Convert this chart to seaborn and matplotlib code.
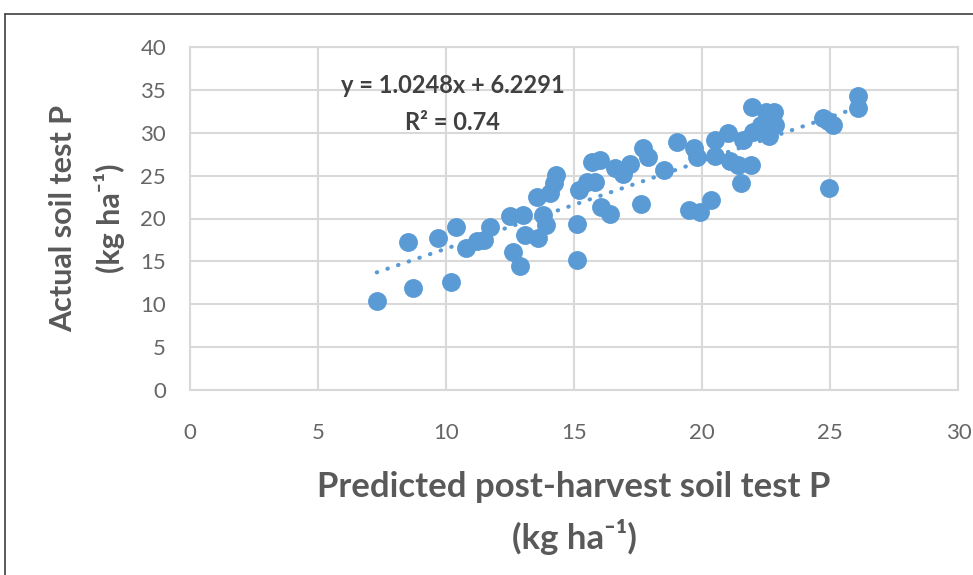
import numpy as np
import pandas as pd
import seaborn as sns
import matplotlib.pyplot as plt
from matplotlib.lines import Line2D

# valores
predicted = [7.3, 8.5, 8.7, 9.7, 10.2, 10.4, 10.8, 11.2, 11.5, 11.7,
             12.5, 12.6, 12.9, 13.0, 13.1, 13.55, 13.6, 13.8, 13.9, 14.05,
             14.2, 14.3, 15.1, 15.1, 15.2, 15.5, 15.7, 15.8, 16.0, 16.05,
             16.4, 16.6, 16.9, 17.2, 17.6, 17.7, 17.9, 18.5, 19.0, 19.5,
             19.7, 19.8, 19.9, 20.35, 20.5, 20.5, 21.0, 21.1, 21.4, 21.5,
             21.6, 21.9, 21.95, 22.0, 22.3, 22.5, 22.6, 22.8, 22.85, 24.7,
             24.9, 25.1, 24.95, 26.1, 26.1]
actual = [10.4, 17.3, 11.9, 17.7, 12.6, 19.0, 16.6, 17.4, 17.5, 19.0,
          20.3, 16.1, 14.5, 20.4, 18.1, 22.5, 17.7, 20.4, 19.2, 23.0,
          24.1, 25.1, 19.4, 15.2, 23.3, 24.3, 26.6, 24.3, 26.8, 21.3,
          20.5, 25.9, 25.2, 26.4, 21.7, 28.2, 27.2, 25.7, 28.9, 21.0,
          28.2, 27.2, 20.8, 22.2, 29.2, 27.3, 30.0, 26.7, 26.2, 24.1,
          29.2, 26.2, 33.0, 30.1, 30.9, 32.4, 29.6, 32.4, 30.9, 31.7,
          31.4, 30.9, 23.6, 34.3, 32.9]
slope, intercept = 1.0248, 6.2291
r2 = 0.74
x_ticks = [0, 5, 10, 15, 20, 25, 30]
y_ticks = [0, 5, 10, 15, 20, 25, 30, 35, 40]

df = pd.DataFrame({"pred": predicted, "actual": actual})

sns.set_style("white")
plt.rcParams["font.family"] = ["Lato", "DejaVu Sans"]

blue = "#5B9BD5"
gray = "#595959"

fig = plt.figure(figsize=(9.73, 5.75), dpi=100)
ax = fig.add_axes([0.195, 0.322, 0.79, 0.596])

sns.scatterplot(data=df, x="pred", y="actual", s=185, color=blue,
                edgecolor=blue, linewidth=0, alpha=1, ax=ax, zorder=3)

# línea de tendencia
xx = np.array([df["pred"].min(), df["pred"].max()])
ax.plot(xx, slope * xx + intercept, color=blue, linestyle=(0, (0.1, 2.6)),
        linewidth=3, dash_capstyle="round", zorder=2)

ax.set_xlim(0, 30)
ax.set_ylim(0, 40)
ax.set_xticks(x_ticks)
ax.set_yticks(y_ticks)
ax.grid(True, color="#D9D9D9", linewidth=1.5)
ax.set_axisbelow(True)
for sp in ax.spines.values():
    sp.set_color("#D9D9D9")
    sp.set_linewidth(1.5)
ax.tick_params(length=0, labelsize=16, colors="#666666", pad=17)
ax.tick_params(axis="x", pad=24)

ax.set_xlabel("Predicted post-harvest soil test P\n(kg ha⁻¹)",
              fontsize=25, fontweight="bold", color=gray, labelpad=20,
              linespacing=1.55)
ax.set_ylabel("Actual soil test P\n(kg ha⁻¹)",
              fontsize=22, fontweight="bold", color=gray, labelpad=11,
              linespacing=1.65)

ax.text(0.342, 0.889, f"y = {slope}x + {intercept}", transform=ax.transAxes,
        ha="center", va="center", fontsize=17, fontweight="bold", color="#404040")
ax.text(0.342, 0.781, f"R² = {r2}", transform=ax.transAxes,
        ha="center", va="center", fontsize=17, fontweight="bold", color="#404040")

# marco exterior
fig.add_artist(Line2D([0.005, 0.005], [0, 0.976], color="#404040", linewidth=1.2))
fig.add_artist(Line2D([0.005, 1], [0.976, 0.976], color="#404040", linewidth=1.2))

plt.savefig("out.png", dpi=100)
